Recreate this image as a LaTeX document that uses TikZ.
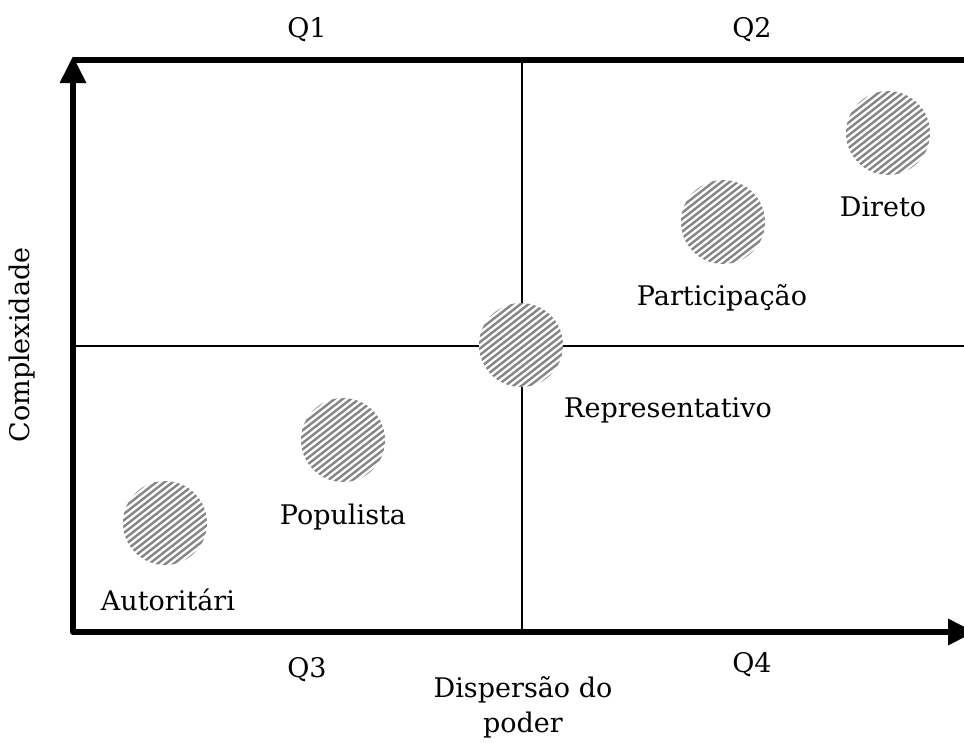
\documentclass[tikz,border=0pt]{standalone}
\usepackage{fontspec}
\setmainfont{DejaVu Serif}
\usetikzlibrary{arrows.meta}
\tikzset{
  axis/.style={line width=6pt, line join=round, >={Triangle[length=27pt,width=25pt]}},
  divider/.style={line width=1.5pt},
  bubble/.style={circle, minimum size=84pt, inner sep=0pt, fill=white},
  stripe/.style={line width=2.4pt, color=gray!95},
  lbl/.style={font=\fontsize{27}{35}\selectfont, inner sep=0pt}
}
\newcommand{\stripes}[1]{%
  \begin{scope}[shift={(#1)}, rotate=38]
    \clip (0,0) circle (42);
    \foreach \d in {-47.5,-42.5,...,48} \draw[stripe] (-50,\d) -- (50,\d);
  \end{scope}}
\begin{document}
\begin{tikzpicture}[x=1pt,y=-1pt]
\useasboundingbox (0,0) rectangle (964,742);
% frame coordinates
\coordinate (tl) at (73,60);
\coordinate (tr) at (964,60);
\coordinate (top) at (73,56);
\coordinate (origin) at (73,632);
\coordinate (right) at (975,632);
\coordinate (vt) at (522,60);
\coordinate (vb) at (522,632);
\coordinate (hl) at (73,346);
\coordinate (hr) at (964,346);
% dividers
\draw[divider] (vt) -- (vb);
\draw[divider] (hl) -- (hr);
% top border
\draw[line width=6pt] (tl) -- (tr);
% axes
\draw[axis, <->] (top) -- (origin) -- (right);
% bubbles
\node[bubble] (cdir) at (888,133) {};
\node[bubble] (cpar) at (723,222) {};
\node[bubble] (crep) at (521,345) {};
\node[bubble] (cpop) at (343,440) {};
\node[bubble] (caut) at (165,523) {};
\stripes{cdir}
\stripes{cpar}
\stripes{crep}
\stripes{cpop}
\stripes{caut}
% labels
\node[lbl] (q1) at (307,30) {Q1};
\node[lbl] (q2) at (752,30) {Q2};
\node[lbl] (q3) at (307,670) {Q3};
\node[lbl] (q4) at (752,665) {Q4};
\node[lbl, align=center] (xl) at (523,707) {Dispersão do\\poder};
\node[lbl, rotate=90] (yl) at (22,345) {Complexidade};
\node[lbl] (ldir) at (883,207) {Direto};
\node[lbl] (lpar) at (722,298) {Participação};
\node[lbl] (lrep) at (668,410) {Representativo};
\node[lbl] (lpop) at (343,517) {Populista};
\node[lbl] (laut) at (168,600) {Autoritári};
\end{tikzpicture}
\end{document}
